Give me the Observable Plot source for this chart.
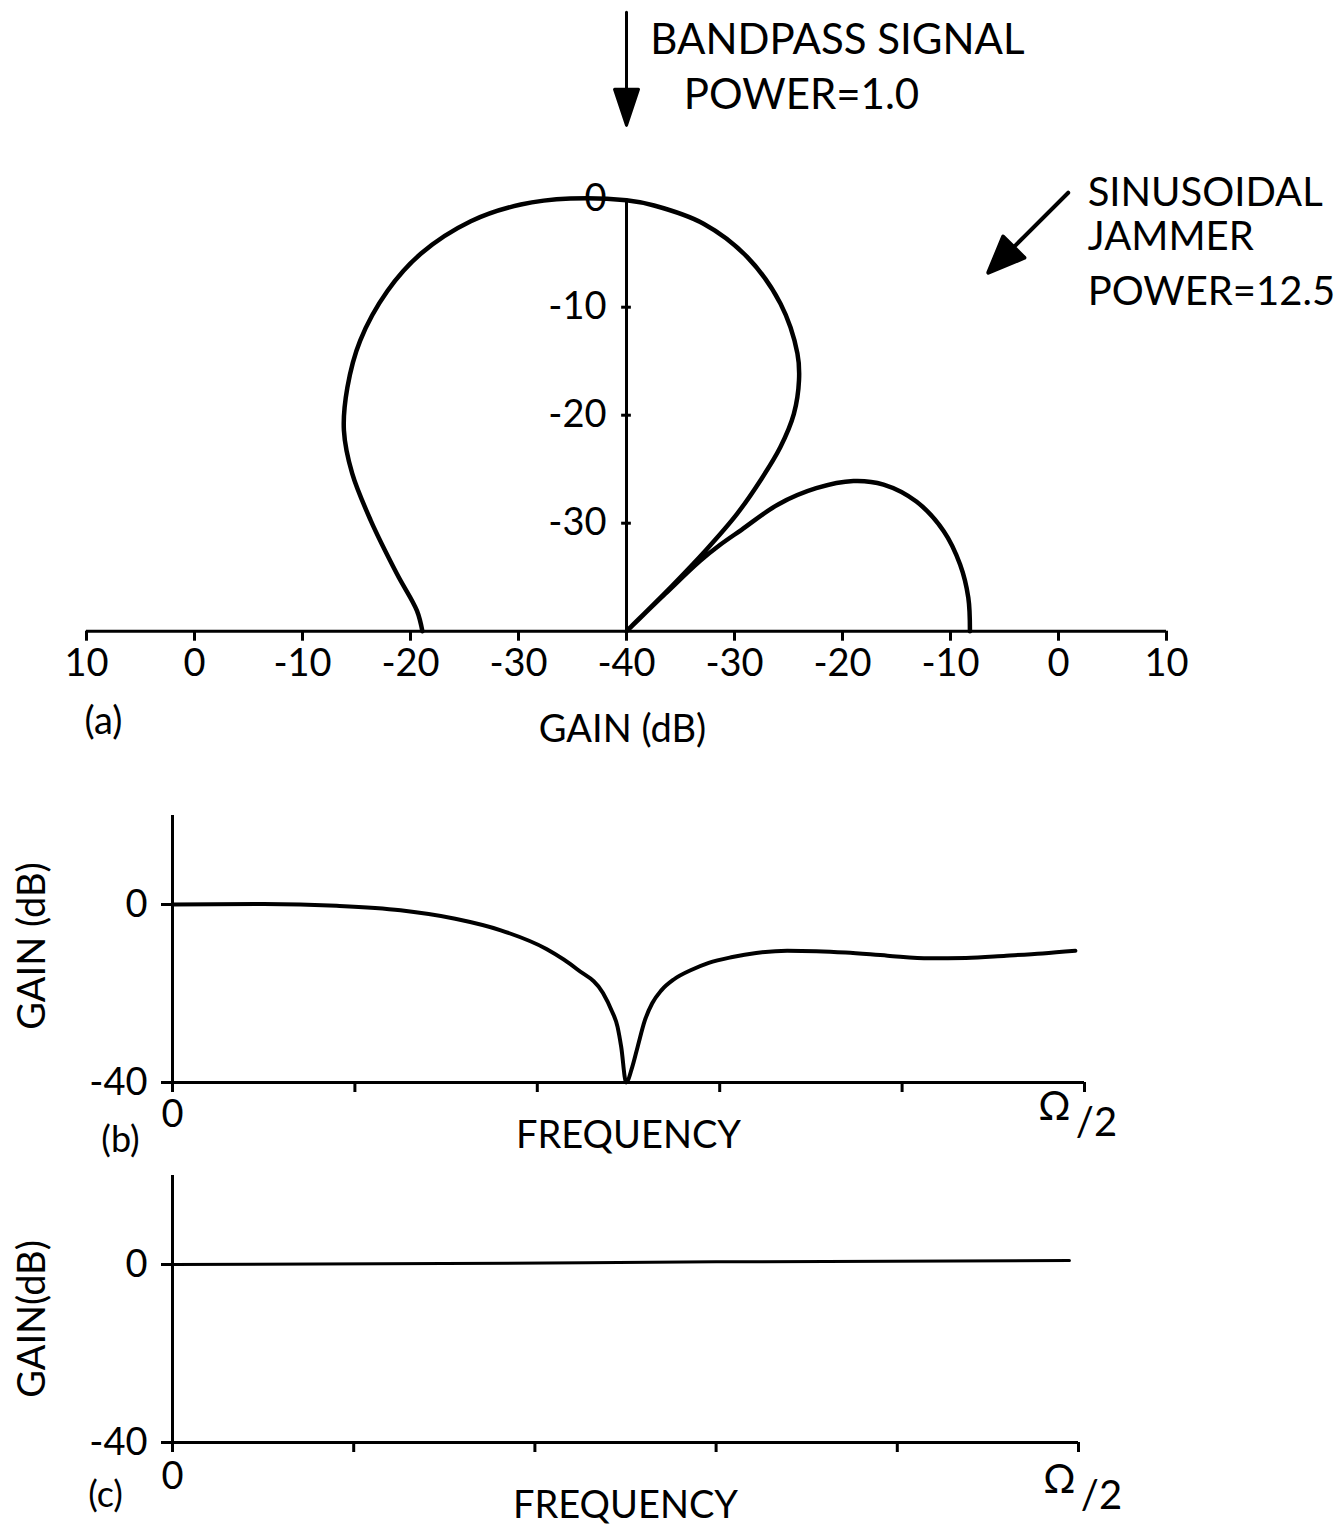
<!DOCTYPE html>
<html><head><meta charset="utf-8">
<script src="https://cdn.jsdelivr.net/npm/d3@7"></script>
<script src="https://cdn.jsdelivr.net/npm/@observablehq/plot@0.6"></script>
<style>
body{margin:0;background:#fff;}
#chart{position:relative;width:1338px;height:1526px;background:#fff;overflow:hidden;}
#chart svg{position:absolute;left:0;}
</style></head><body><div id="chart"></div>
<script>
// ---------- Panel (a): polar gain pattern ----------
// angle from broadside (degrees, + toward the jammer side), gain in dB
const patternAngle = [-90, -84.4, -76.0, -66.6, -60.1, -54.6, -48.9, -42.5, -35.1, -28.6, -20.8, -13.9, -7.4, 0,
  3.7, 10.7, 17.9, 25.2, 31.6, 34.5, 37.6, 39.9, 41.6, 43.3, 44.4, 45.1, 45.6,
  46.0, 46.3, 47.3, 48.6, 50.1, 53.0, 56.5, 60.3, 65.9, 72.5, 78.7, 84.4, 90];
const patternGain = [-21.1, -20.5, -18.1, -14.2, -10.7, -7.9, -5.7, -3.5, -1.5, -0.2, 0.6, 0.7, 0.4, -0.1,
  -0.5, -1.6, -3.6, -6.5, -9.8, -11.8, -14.6, -17.8, -21.3, -25.1, -29.5, -34, -40,
  -35, -30.6, -28.2, -25.8, -21.7, -18.0, -14.8, -12.6, -10.6, -9.2, -8.5, -8.2, -8.2];
const gainFloor = -40;
const radialTickGains = [-30, -20, -10, 0];
const radialTickLabels = ["-30", "-20", "-10", "0"];
const gainAxisLabelsA = ["10", "0", "-10", "-20", "-30", "-40", "-30", "-20", "-10", "0", "10"];
const signalAngle = 0;
const jammerAngle = 45;

// ---------- Panel (b): frequency response with jammer ----------
const freqB = [0, 0.05, 0.09, 0.125, 0.155, 0.18, 0.205, 0.222, 0.236, 0.2406, 0.244, 0.246, 0.2487,
  0.252, 0.255, 0.259, 0.263, 0.268, 0.275, 0.285, 0.294, 0.307, 0.320, 0.337, 0.353, 0.369, 0.392, 0.415, 0.435, 0.457, 0.477, 0.495];
const gainB = [0, 0.1, -0.3, -1.3, -3.2, -5.8, -10.0, -14.6, -19.9, -23.7, -27.5, -32, -40,
  -36.6, -32, -26, -22.2, -19.3, -16.8, -14.6, -13.1, -11.8, -10.9, -10.4, -10.5, -10.8, -11.5, -12.1, -12, -11.5, -11, -10.4];

// ---------- Panel (c): frequency response, no jammer ----------
const freqC = [0, 0.15, 0.3, 0.495];
const gainC = [0, 0.2, 0.6, 0.9];

const freqTicks = [0, 0.1, 0.2, 0.3, 0.4, 0.5];
const freqTickLabels = ["0", "", "", "", "", ""];
const gainTicksBC = [-40, 0];
const gainTickLabelsBC = ["-40", "0"];

const FONT = 'Lato, "Open Sans", "DejaVu Sans", sans-serif';
const baseStyle = {fontFamily: FONT, fontSize: "38px", color: "#000", background: "transparent", overflow: "visible"};

// polar -> cartesian (in dB-above-floor units)
const polar = patternAngle.map((a, i) => {
  const r = Math.max(patternGain[i] - gainFloor, 0);
  const t = a * Math.PI / 180;
  return {x: r * Math.sin(t), y: r * Math.cos(t)};
});
const tickPosA = gainAxisLabelsA.map((_, i) => -50 + i * 10);

const arrowShape = (h, w) => ({
  draw(context, l) {
    context.moveTo(0, 0);
    context.lineTo(0, -(l - h));
    context.moveTo(-w, -(l - h));
    context.lineTo(0, -l);
    context.lineTo(w, -(l - h));
    context.closePath();
  }
});

const pxA = 10.8; // px per dB
const plotA = Plot.plot({
  width: 1338, height: 770,
  marginLeft: 86, marginRight: 172, marginTop: 0, marginBottom: 139.3,
  x: {domain: [-50, 50]},
  y: {domain: [0, 630.7 / pxA], axis: null},
  style: baseStyle,
  marks: [
    Plot.ruleY([0], {strokeWidth: 3}),
    Plot.axisX(tickPosA, {tickSize: 10, tickPadding: 8, strokeWidth: 3, fontSize: 38,
      tickFormat: d => gainAxisLabelsA[Math.round((d + 50) / 10)], label: null}),
    Plot.ruleX([0], {y1: 0, y2: 0 - gainFloor, strokeWidth: 3}),
    Plot.ruleY(radialTickGains.slice(0, 3), {y: g => g - gainFloor, x1: -0.45, x2: 0.45, strokeWidth: 3}),
    Plot.text(radialTickGains, {x: 0, y: g => g - gainFloor, text: (g, i) => radialTickLabels[i],
      textAnchor: "end", dx: -20, fontSize: 38}),
    Plot.line(polar, {x: "x", y: "y", curve: "catmull-rom", strokeWidth: 4.5, strokeLinejoin: "round"}),
    // signal arrow (from broadside)
    Plot.vector([signalAngle], {x: 0, y: 57.3, length: 113, rotate: a => 180 + a, anchor: "start",
      shape: arrowShape(36, 12), stroke: "black", fill: "black", strokeWidth: 3}),
    // jammer arrow
    Plot.vector([jammerAngle], {x: 40.9, y: 40.6, length: 113, rotate: a => 180 + a, anchor: "start",
      shape: arrowShape(36, 15), stroke: "black", fill: "black", strokeWidth: 4}),
    Plot.text(["BANDPASS SIGNAL"], {x: 2.2, y: 54.7, textAnchor: "start", fontSize: 42}),
    Plot.text(["POWER=1.0"], {x: 5.3, y: 49.6, textAnchor: "start", fontSize: 42}),
    Plot.text(["SINUSOIDAL"], {x: 42.7, y: 40.6, textAnchor: "start", fontSize: 40}),
    Plot.text(["JAMMER"], {x: 42.7, y: 36.5, textAnchor: "start", fontSize: 40}),
    Plot.text(["POWER=12.5"], {x: 42.7, y: 31.4, textAnchor: "start", fontSize: 40}),
    Plot.text(["(a)"], {frameAnchor: "bottom-left", textAnchor: "middle", lineAnchor: "middle", dx: 17, dy: 91, fontSize: 38}),
    Plot.text(["GAIN (dB)"], {frameAnchor: "bottom", textAnchor: "middle", lineAnchor: "middle", dx: -4, dy: 99, fontSize: 38})
  ]
});
plotA.style.top = "0px";

function freqPanel(freq, gain, opts) {
  const data = freq.map((f, i) => ({f, g: gain[i]}));
  return Plot.plot({
    width: 1338, height: opts.height,
    marginLeft: 172, marginRight: opts.marginRight, marginTop: opts.marginTop, marginBottom: opts.marginBottom,
    x: {domain: [0, 0.5]},
    y: {domain: [-40, 20]},
    style: baseStyle,
    marks: [
      Plot.ruleX([0], {strokeWidth: 3}),
      Plot.ruleY([-40], {strokeWidth: 3}),
      Plot.axisY(gainTicksBC, {tickSize: 11, tickPadding: 14, strokeWidth: 3, fontSize: 38,
        tickFormat: d => gainTickLabelsBC[gainTicksBC.indexOf(d)], label: null}),
      Plot.axisX(freqTicks, {tickSize: 10, tickPadding: opts.xPad, strokeWidth: 3, fontSize: 38,
        tickFormat: d => freqTickLabels[freqTicks.indexOf(d)], label: null}),
      Plot.line(data, {x: "f", y: "g", curve: "monotone-x", strokeWidth: opts.lineWidth}),
      Plot.text(["Ω"], {x: 0.5, y: -40, dx: opts.omegaDx, dy: opts.omegaDy, fontSize: 40}),
      Plot.text(["/2"], {x: 0.5, y: -40, dx: opts.omegaDx + 42, dy: opts.omegaDy + 16, fontSize: 40}),
      Plot.text(["FREQUENCY"], {frameAnchor: "bottom", textAnchor: "middle", lineAnchor: "middle", dy: opts.freqDy, fontSize: 38}),
      Plot.text([opts.tag], {frameAnchor: "bottom-left", textAnchor: "middle", lineAnchor: "middle", dx: opts.tagDx, dy: opts.tagDy, fontSize: 36}),
      Plot.text([opts.ylabel], {frameAnchor: "left", textAnchor: "middle", lineAnchor: "middle", rotate: -90, dx: -140, dy: opts.ylabelDy, fontSize: 38})
    ]
  });
}

const plotB = freqPanel(freqB, gainB, {height: 380, marginRight: 254, marginTop: 35, marginBottom: 78,
  xPad: 8, omegaDx: -30, omegaDy: 25, freqDy: 53, tag: "(b)", tagDx: -52, tagDy: 58, ylabel: "GAIN (dB)", ylabelDy: -3, lineWidth: 4});
plotB.style.top = "780px";

const plotC = freqPanel(freqC, gainC, {height: 366, marginRight: 260, marginTop: 15, marginBottom: 84,
  xPad: 10, omegaDx: -19, omegaDy: 38, freqDy: 63, tag: "(c)", tagDx: -67, tagDy: 53, ylabel: "GAIN(dB)", ylabelDy: 10, lineWidth: 3});
plotC.style.top = "1160px";

const chart = document.getElementById("chart");
chart.append(plotA, plotB, plotC);
</script>
</body></html>
